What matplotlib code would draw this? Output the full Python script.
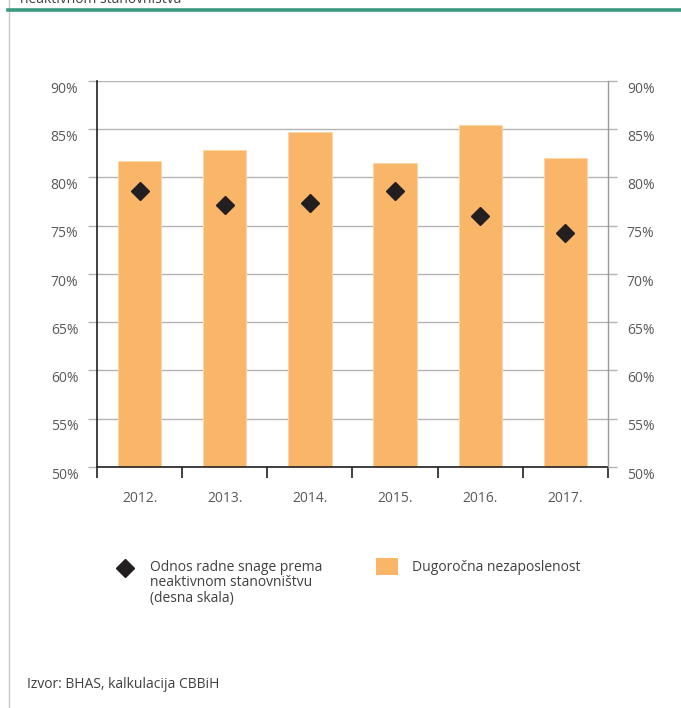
import matplotlib
matplotlib.use("Agg")
import numpy as np
import matplotlib.pyplot as plt
from matplotlib.lines import Line2D
from matplotlib.patches import Patch
from matplotlib.legend_handler import HandlerLine2D
from matplotlib.ticker import FixedLocator, NullFormatter
from matplotlib.transforms import ScaledTranslation

plt.rcParams['font.family'] = ['Open Sans', 'DejaVu Sans']

years = ['2012.', '2013.', '2014.', '2015.', '2016.', '2017.']
long_term_unemployment = [81.7, 82.9, 84.7, 81.5, 85.4, 82.0]
labour_to_inactive = [78.65, 77.2, 77.4, 78.65, 76.0, 74.3]
y_ticks = [50, 55, 60, 65, 70, 75, 80, 85, 90]
y_tick_labels = ['50%', '55%', '60%', '65%', '70%', '75%', '80%', '85%', '90%']

BAR_COLOR = '#f9b568'
DIAMOND_COLOR = '#231f20'
TEXT_COLOR = '#58595b'
GRID_COLOR = '#b3b3b3'
DARK = '#231f20'

W, H = 681, 708
fig = plt.figure(figsize=(W / 100, H / 100), dpi=100)


def fx(px):
    return px / W


def fy(py):
    return 1 - py / H


class FirstLineHandler(HandlerLine2D):
    """Line2D legend handler that lifts the marker to the first text line."""

    def __init__(self, lift, **kw):
        super().__init__(**kw)
        self.lift = lift

    def create_artists(self, *args, **kwargs):
        artists = super().create_artists(*args, **kwargs)
        for a in artists:
            a.set_ydata(np.asarray(a.get_ydata(), dtype=float) + self.lift)
        return artists


# page decoration: left rule and green header line
fig.add_artist(Line2D([fx(8.5), fx(8.5)], [0, 1], color='#c8c8c8', lw=1.0))
fig.add_artist(Line2D([fx(8), 1], [fy(10), fy(10)], color='#3a9b7f', lw=2.6))
fig.text(fx(20), fy(2.7), 'neaktivnom stanovništva', fontsize=10,
         color='#404040', ha='left', va='baseline')

left, right, top, bottom = 97, 608, 81, 467
ax = fig.add_axes([fx(left), fy(bottom), fx(right - left), (bottom - top) / H])
x = list(range(len(years)))

ax.bar(x, long_term_unemployment, width=0.51, color=BAR_COLOR,
       edgecolor='#fcd6a6', linewidth=0.6, zorder=2)
ax.set_xlim(-0.5, len(years) - 0.5)
ax.set_ylim(50, 90)
ax.set_yticks(y_ticks)
ax.set_yticklabels(y_tick_labels)
ax.yaxis.grid(True, color=GRID_COLOR, lw=1.0)
ax.set_axisbelow(True)

# category boundaries carry the tick marks, labels sit between them
ax.xaxis.set_major_locator(FixedLocator([i - 0.5 for i in range(len(years) + 1)]))
ax.xaxis.set_major_formatter(NullFormatter())
ax.set_xticks(x, minor=True)
ax.set_xticklabels(years, minor=True)
ax.tick_params(axis='x', which='major', direction='out', length=8, width=1.2,
               color=DARK)
ax.tick_params(axis='x', which='minor', length=0, pad=17, labelsize=10,
               labelcolor=TEXT_COLOR)
ax.tick_params(axis='y', direction='out', length=6.5, width=1.0,
               color=GRID_COLOR, pad=7, labelsize=10, labelcolor=TEXT_COLOR)

for side in ('top', 'right'):
    ax.spines[side].set_visible(False)
ax.spines['left'].set_color(DARK)
ax.spines['left'].set_linewidth(1.2)
ax.spines['bottom'].set_color(DARK)
ax.spines['bottom'].set_linewidth(1.2)

ax2 = ax.twinx()
ax2.plot(x, labour_to_inactive, linestyle='none', marker='D', markersize=9.5,
         color=DIAMOND_COLOR, zorder=3)
ax2.set_ylim(50, 90)
ax2.set_yticks(y_ticks)
ax2.set_yticklabels(y_tick_labels)
ax2.tick_params(axis='y', direction='out', length=6.5, width=1.0,
                color=GRID_COLOR, pad=7, labelsize=10, labelcolor=TEXT_COLOR)
for side in ('top', 'left', 'bottom'):
    ax2.spines[side].set_visible(False)
ax2.spines['right'].set_color('#9a9a9a')
ax2.spines['right'].set_linewidth(1.0)

shift = ScaledTranslation(0, -4.5 / 72, fig.dpi_scale_trans)
for lbl in ax.get_yticklabels() + ax2.get_yticklabels():
    lbl.set_transform(lbl.get_transform() + shift)

# legend
diamond_handle = Line2D([], [], linestyle='none', marker='D', markersize=9.5,
                        color=DIAMOND_COLOR)
leg1 = fig.legend([diamond_handle],
                  ['Odnos radne snage prema\nneaktivnom stanovništvu\n(desna skala)'],
                  loc='upper left', bbox_to_anchor=(fx(104), fy(553)),
                  frameon=False, fontsize=10, handlelength=2.0,
                  handletextpad=0.8, borderpad=0, labelcolor='#404040',
                  handler_map={diamond_handle: FirstLineHandler(lift=11.5)})
for t in leg1.get_texts():
    t.set_linespacing(1.05)

bar_handle = Patch(facecolor=BAR_COLOR, edgecolor='none')
leg2 = fig.legend([bar_handle], ['Dugoročna nezaposlenost'],
                  loc='upper left', bbox_to_anchor=(fx(369), fy(551)),
                  frameon=False, fontsize=10, handlelength=1.58,
                  handleheight=1.5, handletextpad=1.0, borderpad=0,
                  labelcolor='#404040')

fig.text(fx(27), fy(688), 'Izvor: BHAS, kalkulacija CBBiH', fontsize=10,
         color='#404040', ha='left', va='baseline')

fig.savefig('out.png', dpi=100, facecolor='white')
